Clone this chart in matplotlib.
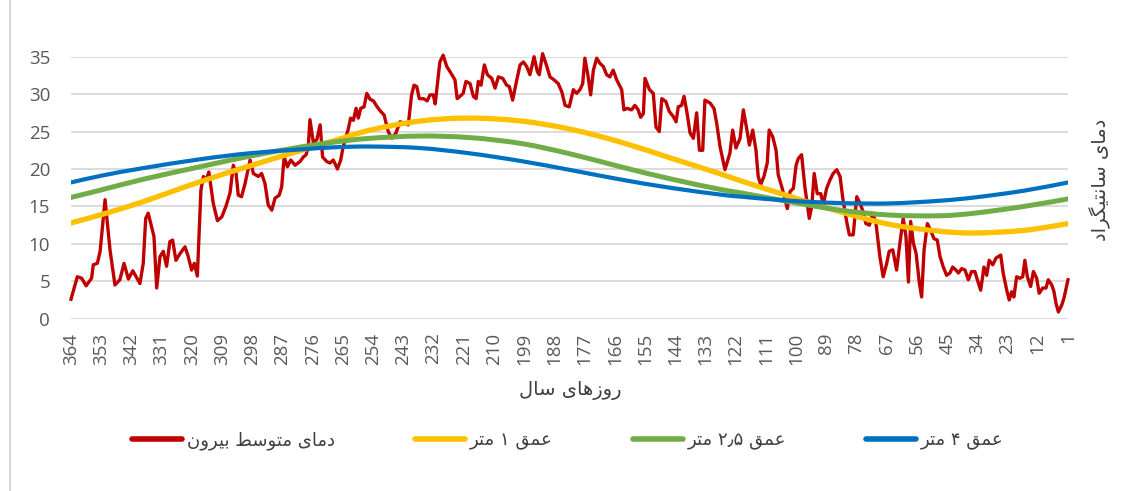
import matplotlib
matplotlib.use("Agg")
import matplotlib.pyplot as plt
from matplotlib.lines import Line2D
from matplotlib.path import Path
from matplotlib.patches import PathPatch

# ---------------- data ----------------
red_days = [364.0, 361.7, 360.1, 358.5, 356.5, 355.9, 354.4, 353.4, 351.6, 349.8, 348.0, 346.2, 344.7, 343.1, 341.5,
            338.9, 337.7, 336.8, 335.9, 333.8, 332.8, 331.6, 330.4, 329.2, 328.0, 327.0, 325.8, 324.3, 322.5, 321.3,
            320.1, 319.1, 318.0, 316.7, 315.8, 314.8, 313.8, 312.2, 310.7, 309.1, 307.6, 306.1, 304.9, 303.9, 303.1,
            301.9, 300.6, 298.8, 297.6, 295.8, 294.6, 293.4, 292.2, 290.9, 289.7, 288.2, 287.3, 286.4, 285.2, 284.0,
            282.4, 280.6, 279.4, 278.4, 277.6, 277.0, 275.8, 274.5, 273.3, 272.4, 270.9, 269.7, 268.5, 267.0, 265.8,
            264.9, 263.0, 262.2, 261.2, 260.2, 259.4, 258.5, 257.3, 256.3, 255.1, 253.9, 252.7, 251.5, 250.0, 248.5,
            247.2, 245.7, 244.2, 242.4, 241.2, 240.0, 239.1, 238.1, 237.2, 235.7, 234.3, 233.3, 232.1, 231.4, 229.7,
            228.5, 227.2, 226.0, 224.2, 223.4, 222.4, 221.2, 220.2, 218.7, 217.5, 216.5, 215.7, 214.7, 213.5, 212.4,
            210.8, 209.6, 208.4, 206.8, 205.4, 204.4, 203.2, 201.7, 200.5, 199.3, 198.1, 196.9, 195.4, 194.2, 193.5,
            192.3, 191.1, 189.6, 188.1, 186.6, 185.3, 184.1, 182.6, 181.1, 179.9, 178.7, 177.7, 176.9, 175.7, 174.8,
            173.8, 172.6, 171.4, 170.2, 169.0, 167.8, 166.6, 165.3, 163.5, 162.7, 161.5, 159.9, 158.7, 157.5, 156.6,
            155.6, 155.0, 153.4, 152.0, 151.0, 149.8, 148.9, 147.4, 146.2, 144.7, 143.7, 142.9, 141.7, 140.8, 139.8,
            138.6, 137.4, 136.2, 135.2, 134.0, 133.2, 131.3, 129.9, 128.9, 127.7, 125.9, 124.1, 123.1, 121.9, 120.4,
            119.2, 118.0, 117.0, 115.8, 114.6, 113.8, 112.9, 111.7, 110.5, 109.8, 108.5, 107.3, 106.5, 105.2, 104.0,
            103.2, 102.2, 101.0, 100.0, 99.2, 98.0, 96.8, 95.2, 94.3, 93.4, 92.3, 91.0, 90.1, 88.9, 87.7,
            86.5, 85.2, 84.0, 83.0, 81.6, 80.6, 79.2, 77.9, 76.7, 75.8, 74.6, 73.3, 72.1, 70.9, 69.5,
            68.3, 67.0, 66.1, 64.8, 63.4, 62.2, 61.0, 60.0, 59.1, 58.3, 57.3, 56.3, 55.1, 54.3, 53.4,
            52.2, 51.0, 49.8, 48.6, 47.6, 46.4, 45.2, 44.0, 43.0, 41.8, 40.9, 39.7, 38.5, 37.3, 36.1,
            34.9, 34.0, 32.8, 31.6, 30.6, 29.7, 28.4, 27.2, 25.5, 24.6, 23.3, 22.4, 21.5, 20.7, 19.7,
            18.5, 17.5, 16.7, 15.8, 14.6, 13.6, 12.4, 11.5, 10.2, 9.0, 8.2, 6.9, 6.1, 5.4, 4.5,
            3.3, 2.5, 1.0]
red_temps = [2.6, 5.6, 5.4, 4.4, 5.4, 7.2, 7.4, 9.0, 15.9, 9.2, 4.5, 5.2, 7.4, 5.3, 6.4,
             4.7, 7.4, 13.4, 14.1, 11.0, 4.1, 8.3, 9.0, 7.0, 10.3, 10.5, 7.8, 8.7, 9.6, 8.3,
             6.5, 7.4, 5.7, 17.2, 19.0, 18.5, 19.6, 15.4, 13.1, 13.6, 15.0, 16.8, 20.5, 19.4, 16.5,
             16.3, 18.1, 21.2, 19.4, 19.0, 19.4, 18.1, 15.2, 14.5, 16.1, 16.5, 17.6, 21.6, 20.3, 21.2,
             20.5, 21.0, 21.6, 21.9, 23.0, 26.6, 23.6, 23.9, 25.9, 21.6, 21.0, 20.8, 21.2, 20.0, 21.2,
             23.0, 25.4, 26.8, 26.5, 28.1, 26.8, 28.1, 28.3, 30.1, 29.3, 29.1, 28.4, 27.8, 27.2, 25.0,
             24.1, 24.8, 26.3, 26.1, 25.9, 29.9, 31.2, 31.0, 29.4, 29.4, 29.1, 29.9, 29.9, 28.7, 34.3,
             35.2, 33.7, 33.0, 31.9, 29.4, 29.7, 30.1, 31.7, 31.4, 29.7, 29.4, 31.7, 31.2, 33.9, 32.6,
             32.1, 30.8, 32.3, 32.1, 31.2, 31.0, 29.2, 31.9, 33.9, 34.3, 33.7, 32.6, 35.0, 33.0, 32.6,
             35.4, 34.1, 32.3, 31.9, 31.4, 30.3, 28.5, 28.3, 30.6, 30.1, 30.6, 31.4, 34.8, 32.3, 29.9,
             33.2, 34.8, 34.1, 33.7, 32.6, 32.3, 33.2, 31.9, 30.6, 27.9, 28.1, 27.9, 28.5, 27.9, 26.9,
             27.4, 32.1, 30.6, 30.1, 25.6, 25.0, 29.4, 29.0, 27.7, 27.0, 26.3, 28.3, 28.5, 29.7, 27.7,
             24.8, 24.1, 27.5, 22.5, 22.5, 29.2, 28.8, 28.1, 26.1, 23.0, 19.9, 22.1, 25.2, 22.8, 24.1,
             27.9, 25.4, 23.2, 25.2, 22.5, 19.0, 17.9, 19.0, 20.8, 25.2, 24.3, 22.5, 19.2, 17.6, 15.9,
             14.7, 17.0, 17.4, 20.5, 21.4, 21.9, 17.6, 13.4, 15.0, 19.4, 16.7, 16.7, 15.2, 17.4, 18.5,
             19.4, 19.9, 19.0, 16.1, 13.0, 11.2, 11.2, 16.3, 15.4, 14.5, 12.7, 12.5, 14.1, 12.7, 8.3,
             5.6, 7.4, 9.0, 9.2, 6.5, 10.1, 13.4, 11.0, 4.9, 13.0, 10.1, 8.7, 4.7, 2.9, 9.2,
             12.7, 11.8, 10.7, 10.5, 8.3, 6.9, 5.8, 6.1, 6.9, 6.5, 6.1, 6.7, 6.5, 5.2, 6.3,
             6.3, 5.2, 3.8, 6.9, 5.8, 7.8, 7.2, 8.1, 8.5, 6.1, 3.8, 2.5, 3.6, 2.9, 5.6,
             5.4, 5.6, 7.8, 5.6, 4.3, 6.3, 5.4, 3.4, 4.1, 4.1, 5.2, 4.5, 3.6, 2.1, 0.9,
             1.8, 2.7, 5.2]

depth_days = [364, 353, 338, 317, 299, 281, 268, 255, 237, 219, 200, 182, 164, 146, 128, 120, 102, 84, 66, 48, 35, 17, 1]
depth_1m   = [12.8, 13.9, 15.6, 18.3, 20.4, 22.4, 23.8, 25.2, 26.4, 26.8, 26.4, 25.3, 23.6, 21.5, 19.4, 18.4, 16.3, 14.3, 12.6, 11.7, 11.45, 11.8, 12.7]
depth_2_5m = [16.2, 17.2, 18.6, 20.3, 21.7, 22.9, 23.6, 24.1, 24.4, 24.2, 23.4, 22.0, 20.3, 18.7, 17.3, 16.8, 15.6, 14.5, 13.85, 13.75, 14.1, 15.0, 16.0]
depth_4m   = [18.2, 19.1, 20.1, 21.3, 22.1, 22.6, 22.9, 23.0, 22.8, 22.1, 21.05, 19.85, 18.6, 17.5, 16.6, 16.3, 15.75, 15.45, 15.4, 15.75, 16.2, 17.1, 18.2]

x_ticks = list(range(364, 0, -11))
y_ticks = [0, 5, 10, 15, 20, 25, 30, 35]

label_red = "دمای متوسط بیرون"
label_1m = "عمق ۱ متر"
label_25m = "عمق ۲٫۵ متر"
label_4m = "عمق ۴ متر"
x_title = "روزهای سال"
y_title = "دمای سانتیگراد"

# ------------- simple Persian shaping (matplotlib has no complex text layout) -------------
FORMS = {
    'ا': ('\uFE8D', '\uFE8E', None, None),
    'ب': ('\uFE8F', '\uFE90', '\uFE91', '\uFE92'),
    'ت': ('\uFE95', '\uFE96', '\uFE97', '\uFE98'),
    'د': ('\uFEA9', '\uFEAA', None, None),
    'ر': ('\uFEAD', '\uFEAE', None, None),
    'ز': ('\uFEAF', '\uFEB0', None, None),
    'س': ('\uFEB1', '\uFEB2', '\uFEB3', '\uFEB4'),
    'ط': ('\uFEC1', '\uFEC2', '\uFEC3', '\uFEC4'),
    'ع': ('\uFEC9', '\uFECA', '\uFECB', '\uFECC'),
    'ق': ('\uFED5', '\uFED6', '\uFED7', '\uFED8'),
    'ل': ('\uFEDD', '\uFEDE', '\uFEDF', '\uFEE0'),
    'م': ('\uFEE1', '\uFEE2', '\uFEE3', '\uFEE4'),
    'ن': ('\uFEE5', '\uFEE6', '\uFEE7', '\uFEE8'),
    'ه': ('\uFEE9', '\uFEEA', '\uFEEB', '\uFEEC'),
    'و': ('\uFEED', '\uFEEE', None, None),
    'ی': ('\uFBFC', '\uFBFD', '\uFBFE', '\uFBFF'),
    'گ': ('\uFB92', '\uFB93', '\uFB94', '\uFB95'),
}


def shape_word(w):
    if not any(c in FORMS for c in w):
        return w
    out = []
    for i, c in enumerate(w):
        f = FORMS.get(c)
        if f is None:
            out.append(c)
            continue
        prev = w[i - 1] if i > 0 else None
        nxt = w[i + 1] if i + 1 < len(w) else None
        jp = prev in FORMS and FORMS[prev][2] is not None
        jn = nxt in FORMS and f[2] is not None
        if jp and jn:
            g = f[3]
        elif jp:
            g = f[1]
        elif jn:
            g = f[2]
        else:
            g = f[0]
        out.append(g)
    return ''.join(reversed(out))


def rtl(s):
    return ' '.join(shape_word(w) for w in reversed(s.split(' ')))


def smooth_path(xs, ys):
    """Excel-style smoothed line: cubic Bezier segments through the data points."""
    pts = list(zip(xs, ys))
    n = len(pts)
    verts = [pts[0]]
    codes = [Path.MOVETO]
    for i in range(n - 1):
        p0 = pts[i - 1] if i > 0 else pts[i]
        p1 = pts[i]
        p2 = pts[i + 1]
        p3 = pts[i + 2] if i + 2 < n else pts[i + 1]
        c1 = (p1[0] + (p2[0] - p0[0]) / 6.0, p1[1] + (p2[1] - p0[1]) / 6.0)
        c2 = (p2[0] - (p3[0] - p1[0]) / 6.0, p2[1] - (p3[1] - p1[1]) / 6.0)
        verts += [c1, c2, p2]
        codes += [Path.CURVE4, Path.CURVE4, Path.CURVE4]
    return Path(verts, codes)


# ---------------- figure ----------------
W, H = 1135, 491
fig = plt.figure(figsize=(W / 100, H / 100), dpi=100)
fig.patch.set_facecolor('white')
ax = fig.add_axes([71 / W, 1 - 318.7 / H, 997 / W, 262 / H])

PFONT = ['DejaVu Sans']
NFONT = ['Open Sans', 'DejaVu Sans']

c_red, c_yel, c_grn, c_blu = '#C00000', '#FFC000', '#70AD47', '#0070C0'

ax.plot(red_days, red_temps, color=c_red, lw=2.4, solid_joinstyle='round', clip_on=False, zorder=3)
for ys, col, lw, z in [(depth_1m, c_yel, 3.8, 4), (depth_2_5m, c_grn, 3.6, 5), (depth_4m, c_blu, 3.0, 6)]:
    ax.add_patch(PathPatch(smooth_path(depth_days, ys), facecolor='none', edgecolor=col, lw=lw,
                           capstyle='round', joinstyle='round', zorder=z))

ax.set_xlim(364, 1)
ax.set_ylim(0, 35)
ax.set_xticks(x_ticks)
ax.set_xticklabels([str(t) for t in x_ticks], rotation=90, family=NFONT, fontsize=13.5, color='#595959')
ax.set_yticks(y_ticks)
ax.set_yticklabels([str(t) for t in y_ticks], family=NFONT, fontsize=13.5, color='#595959')
ax.tick_params(axis='both', length=0)
ax.tick_params(axis='y', pad=15)
ax.tick_params(axis='x', pad=10)
for s in ax.spines.values():
    s.set_visible(False)
ax.grid(axis='y', color='#d9d9d9', lw=1.3, zorder=0)
ax.set_axisbelow(True)

fig.text(570 / W, 1 - 390 / H, rtl(x_title), family=PFONT, fontsize=14, color='#404040', ha='center', va='center')
fig.text(1100 / W, 1 - 180 / H, rtl(y_title), family=PFONT, fontsize=14, color='#404040', ha='center', va='center', rotation=90)

handles = [Line2D([], [], color=c, lw=4.0, solid_capstyle='round') for c in (c_red, c_yel, c_grn, c_blu)]
labels = [rtl(label_red), rtl(label_1m), rtl(label_25m), rtl(label_4m)]
fs = 13
px = fs * 100 / 72
leg = fig.legend(handles, labels, loc='center', bbox_to_anchor=(568 / W, 1 - 441 / H), ncol=4, frameon=False,
                 prop={'family': PFONT, 'size': fs}, handlelength=50 / px, handletextpad=5 / px,
                 columnspacing=80 / px)
for t in leg.get_texts():
    t.set_color('#404040')

fig.add_artist(Line2D([10 / W, 10 / W], [0, 1], transform=fig.transFigure, color='#d0d0d0', lw=1.2))

fig.savefig('out.png', dpi=100)
